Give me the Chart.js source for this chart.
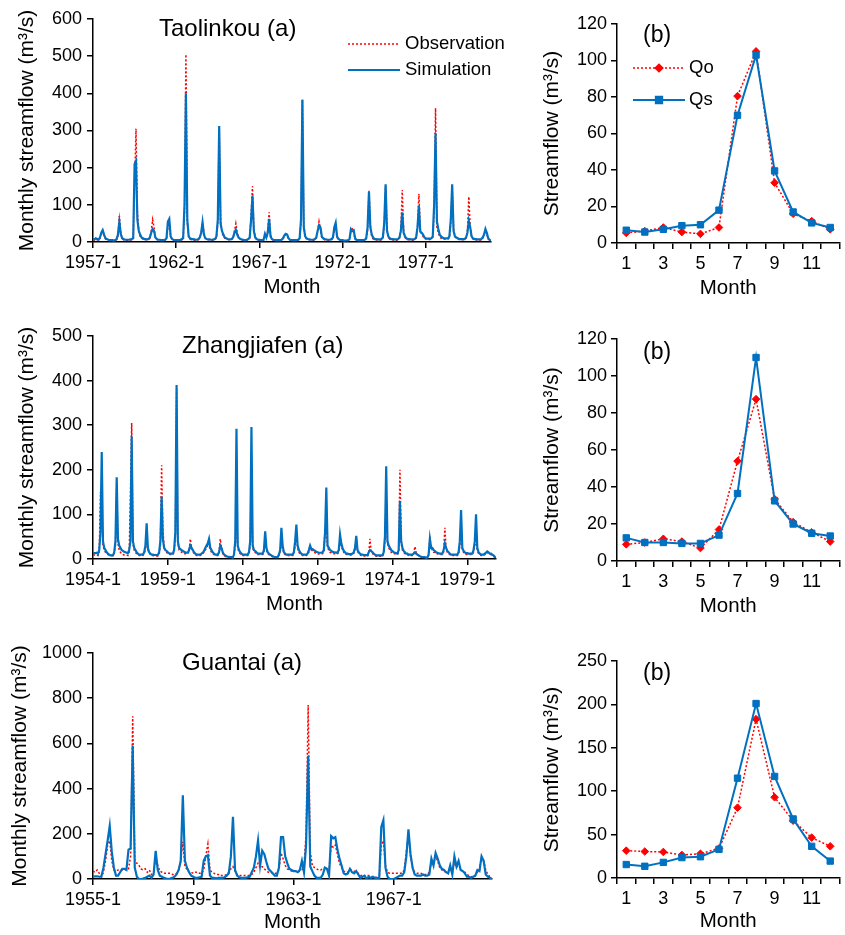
<!DOCTYPE html>
<html>
<head>
<meta charset="utf-8">
<script src="https://cdn.jsdelivr.net/npm/chart.js@4.4.1/dist/chart.umd.min.js"></script>
<style>
body { margin: 0; background: #fff; width: 845px; height: 935px; position: relative; overflow: hidden; font-family: "Liberation Sans", Arial, sans-serif; }
.box { position: absolute; }
.lbl { position: absolute; font-size: 24px; line-height: 24px; color: #000; white-space: nowrap; }
</style>
</head>
<body>
<div class="box" style="left:0;top:0;width:518px;height:300px"><canvas id="taoA"></canvas></div>
<div class="box" style="left:520px;top:0;width:325px;height:301px"><canvas id="taoB"></canvas></div>
<div class="box" style="left:0;top:317px;width:505px;height:300px"><canvas id="zhaA"></canvas></div>
<div class="box" style="left:520px;top:315px;width:325px;height:304px"><canvas id="zhaB"></canvas></div>
<div class="box" style="left:0;top:634px;width:500px;height:301px"><canvas id="guaA"></canvas></div>
<div class="box" style="left:520px;top:637px;width:325px;height:297px"><canvas id="guaB"></canvas></div>

<div class="lbl" style="left:159px;top:16px">Taolinkou (a)</div>
<div class="lbl" style="left:182px;top:333px">Zhangjiafen (a)</div>
<div class="lbl" style="left:182px;top:650px">Guantai (a)</div>
<div class="lbl" style="left:643px;top:22px;font-size:23px">(b)</div>
<div class="lbl" style="left:643px;top:339px;font-size:23px">(b)</div>
<div class="lbl" style="left:643px;top:660px;font-size:23px">(b)</div>

<script>
// ---- Taolinkou monthly series, 1957-1 .. 1980-12 (one row per year)
const taoSim = [
  8,7,10,8,6,12,25,32,20,10,8,6,
  5,5,5,4,5,8,20,55,22,10,8,6,
  6,6,6,7,8,10,210,218,60,30,20,12,
  10,8,8,7,8,12,25,35,30,12,8,6,
  6,5,5,5,6,10,55,62,15,8,6,5,
  5,5,5,5,8,10,100,400,60,15,10,8,
  8,7,6,6,8,12,25,53,20,10,8,7,
  7,6,6,7,8,15,60,312,50,30,20,12,
  10,8,7,7,8,12,25,33,20,12,9,7,
  6,5,5,6,8,12,60,125,30,12,8,6,
  6,5,5,6,22,12,25,62,15,8,6,5,
  5,5,5,5,6,10,18,22,20,10,6,5,
  5,5,5,5,6,10,60,383,40,15,10,8,
  7,6,6,6,8,12,30,45,40,15,10,8,
  7,6,6,6,8,12,40,52,15,8,6,5,
  5,4,4,4,5,8,35,30,32,10,6,5,
  5,5,5,5,6,10,40,135,40,20,12,8,
  8,7,7,7,8,12,50,155,30,15,10,8,
  8,7,7,7,8,12,30,80,25,15,10,8,
  8,7,7,7,8,12,40,97,28,25,20,12,
  10,9,9,9,10,15,100,293,55,35,20,15,
  12,10,10,10,10,15,60,155,30,15,12,10,
  8,8,8,8,8,12,25,57,40,15,10,8,
  8,7,7,7,8,12,20,35,25,10,6,3
];
const taoObs = [
  6,5,8,6,5,10,20,30,18,8,6,5,
  4,4,4,4,4,6,15,70,25,10,6,5,
  5,5,5,5,6,8,150,305,80,30,15,10,
  8,7,6,6,6,10,30,60,40,12,7,5,
  5,4,4,4,5,8,40,55,15,8,5,4,
  4,4,4,4,6,8,80,505,50,15,8,6,
  6,5,5,5,6,10,25,50,25,10,7,6,
  6,5,5,5,6,12,50,310,60,25,15,10,
  8,7,6,6,7,10,30,50,25,12,8,6,
  5,4,4,5,6,10,70,150,35,12,7,5,
  5,4,4,5,15,12,30,80,20,8,5,4,
  4,4,4,4,5,8,15,20,18,8,5,4,
  4,4,4,4,5,8,50,383,45,15,8,6,
  6,5,5,5,6,10,30,55,35,12,8,6,
  5,5,5,5,6,10,30,40,12,7,5,4,
  4,3,3,3,4,6,30,35,25,8,5,4,
  4,4,4,4,5,8,30,138,45,15,8,6,
  6,5,5,5,6,10,40,150,35,12,8,6,
  6,5,5,5,6,10,35,140,30,12,8,6,
  6,5,5,5,6,10,40,130,35,20,15,10,
  8,7,7,7,8,12,80,360,40,25,15,10,
  10,8,8,8,8,12,50,150,35,15,10,8,
  7,6,6,6,7,10,30,122,40,15,8,6,
  6,5,5,5,6,10,20,30,20,8,5,3
];
const taoTicks = ['1957-1', '1962-1', '1967-1', '1972-1', '1977-1'];

// ---- Zhangjiafen monthly series, 1954-1 .. 1980-12
const zhaSim = [
  14,13,13,14,12,20,60,240,40,25,20,15,
  12,10,8,8,8,15,40,183,45,30,25,20,
  18,16,15,14,13,20,40,275,40,25,20,15,
  12,10,10,10,10,15,30,80,25,15,12,10,
  10,9,9,9,9,15,40,140,45,25,20,18,
  15,13,12,12,12,20,60,390,40,25,22,20,
  18,16,15,14,14,20,30,25,20,15,12,10,
  10,10,10,12,14,18,25,30,35,45,25,20,
  15,12,10,10,10,15,30,25,15,10,8,6,
  5,5,4,4,3,10,40,292,30,20,15,12,
  10,10,10,10,10,15,40,296,30,20,18,15,
  12,12,12,12,12,20,62,25,15,12,10,8,
  6,5,4,4,4,10,20,70,30,15,12,10,
  10,10,10,10,10,15,40,77,30,20,15,12,
  10,10,10,10,12,20,30,22,22,20,18,16,
  15,14,14,14,15,20,60,160,30,25,20,18,
  16,15,15,14,15,20,55,35,25,18,15,12,
  12,11,11,11,12,15,25,52,20,15,12,10,
  10,9,9,9,8,15,20,18,15,12,10,8,
  8,8,8,8,8,15,50,208,40,30,25,20,
  18,15,14,13,12,20,128,40,25,18,15,12,
  12,10,10,10,10,12,15,12,10,8,6,5,
  4,4,4,3,3,10,45,25,25,20,18,15,
  14,13,12,12,12,20,35,25,18,15,12,10,
  10,10,10,10,10,15,40,110,25,18,15,13,
  13,12,12,12,12,20,40,100,25,15,12,10,
  10,10,12,14,17,15,12,12,10,8,5,3
];
const zhaObs = [
  10,9,9,9,8,15,150,100,30,20,15,12,
  10,9,8,8,7,12,30,170,35,20,15,12,
  10,9,9,9,8,15,140,305,35,20,15,12,
  10,8,8,8,8,12,20,45,20,15,10,8,
  8,7,7,7,7,12,30,210,70,25,18,15,
  12,10,10,10,10,15,50,380,35,20,18,15,
  14,12,12,12,12,18,45,25,18,12,10,8,
  8,8,8,10,12,15,20,25,30,30,20,15,
  12,10,8,8,8,12,45,25,12,8,6,5,
  4,4,3,3,3,8,30,110,25,15,12,10,
  8,8,8,8,8,12,30,180,25,18,15,12,
  10,10,10,10,10,15,40,20,12,10,8,6,
  5,4,4,4,4,8,15,35,25,12,10,8,
  8,8,8,8,8,12,30,50,25,15,12,10,
  8,8,8,8,10,15,30,20,18,15,14,12,
  12,11,11,11,12,15,65,60,25,20,15,14,
  12,12,12,12,12,15,40,30,20,15,12,10,
  10,9,9,9,10,12,20,45,18,12,10,8,
  8,7,7,7,7,12,45,15,12,10,8,6,
  6,6,6,6,6,12,40,150,35,25,20,15,
  14,12,12,11,10,15,200,35,20,15,12,10,
  10,8,8,8,8,10,28,15,10,8,6,4,
  4,3,3,3,3,8,50,25,20,15,15,12,
  12,10,10,10,10,15,70,25,15,12,10,8,
  8,8,8,8,8,12,30,60,20,15,12,10,
  10,10,10,10,10,15,30,45,20,12,10,8,
  8,8,10,12,15,12,10,10,8,6,4,3
];
const zhaTicks = ['1954-1', '1959-1', '1964-1', '1969-1', '1974-1', '1979-1'];

// ---- Guantai monthly series, 1955-1 .. 1970-12
const guaSim = [
  10,12,12,10,10,50,110,170,235,120,50,15,
  15,30,45,45,40,130,135,590,50,10,0,0,
  2,5,10,15,5,20,125,40,15,10,5,2,
  0,2,5,10,20,40,80,370,80,50,30,15,
  10,5,5,8,10,80,100,105,15,5,5,3,
  5,5,5,8,15,25,100,275,40,15,8,5,
  5,5,8,10,30,50,100,170,60,125,110,75,
  45,35,25,15,15,50,185,185,100,70,45,40,
  35,35,30,40,80,30,150,545,55,35,15,5,
  5,5,20,50,45,15,190,180,185,130,90,60,
  25,20,25,45,30,25,35,20,5,10,15,0,
  10,5,10,5,5,0,230,260,50,10,0,0,
  0,5,10,15,15,30,100,220,110,50,20,15,
  15,15,20,15,15,20,90,60,115,90,60,45,
  40,30,25,60,20,100,55,80,40,35,25,10,
  10,5,10,15,40,35,100,80,20,10,5,0
];
const guaObs = [
  35,30,40,25,10,30,80,150,170,80,40,35,
  40,40,40,45,40,45,100,720,80,70,60,45,
  40,45,30,40,20,25,90,60,35,30,25,25,
  25,25,20,20,25,40,80,165,60,40,30,30,
  25,30,30,25,25,40,100,155,40,30,25,20,
  20,15,15,15,20,30,45,55,35,20,15,15,
  15,15,15,15,20,30,50,70,50,55,45,35,
  30,30,25,25,25,40,115,90,60,45,40,35,
  35,35,30,35,40,60,200,770,120,60,50,45,
  40,40,45,50,45,40,150,140,150,110,70,50,
  35,30,30,40,40,35,30,25,15,15,10,15,
  15,12,10,10,5,0,150,170,60,30,25,25,
  25,25,25,25,25,40,120,200,100,50,30,25,
  25,25,20,20,20,30,70,65,100,80,50,40,
  35,30,25,50,25,80,50,70,40,35,30,20,
  15,10,10,15,30,40,95,80,40,20,10,5
];
const guaTicks = ['1955-1', '1959-1', '1963-1', '1967-1'];

// ---- mean monthly hydrographs (b)
const months = ['1','2','3','4','5','6','7','8','9','10','11','12'];
const taoQo = [5.5, 6.5, 8.5, 6, 5, 8.5, 80.5, 105, 33, 16, 12, 7.5];
const taoQs = [7, 6, 7.5, 9.5, 10, 18, 70, 103, 39.5, 17, 11, 8.5];
const zhaQo = [9, 10, 12, 10.5, 7, 17, 54, 87.5, 33.5, 21, 15.5, 10.5];
const zhaQs = [12.5, 10, 10, 9.5, 9.5, 14, 36.5, 110, 32.5, 20, 15, 13.5];
const guaQo = [31.5, 30.5, 30, 26.5, 28, 34, 81, 183, 93, 66, 46.5, 36.5];
const guaQs = [15.5, 13.5, 18, 23.5, 24.5, 33, 115, 201, 117, 68, 36.5, 19.5];

const BLUE = '#0070C0';
const RED = '#FF0000';
Chart.defaults.font.family = "'Liberation Sans', Arial, sans-serif";
Chart.defaults.color = '#000';

// legend drawn by hand inside the plot, like the Excel original
function legendPlugin(items) {
  return {
    id: 'handLegend',
    afterDraw(chart) {
      const c = chart.ctx;
      items.forEach(it => {
        c.save();
        c.strokeStyle = it.color;
        c.fillStyle = it.color;
        c.lineWidth = it.width;
        c.setLineDash(it.dash || []);
        c.beginPath();
        c.moveTo(it.x1, it.y);
        c.lineTo(it.x2, it.y);
        c.stroke();
        c.setLineDash([]);
        if (it.marker) {
          Chart.helpers.drawPoint(c, { pointStyle: it.marker, radius: it.r, borderWidth: 1 }, (it.x1 + it.x2) / 2, it.y);
        }
        c.fillStyle = '#000';
        c.font = "18.5px 'Liberation Sans', Arial, sans-serif";
        c.textBaseline = 'middle';
        c.fillText(it.text, it.tx, it.y);
        c.restore();
      });
    }
  };
}

const axisGrid = { drawOnChartArea: false, color: '#000', tickLength: 6, lineWidth: 1.5 };
const axisBorder = { color: '#000', width: 1.5 };

function seriesChart(id, sim, obs, yMax, yStep, tickLabels, tickStep, padTop, padRight, xHeight, titlePad, legend) {
  return new Chart(document.getElementById(id), {
    type: 'line',
    data: {
      datasets: [
        { label: 'Simulation', data: sim.map((v, i) => ({ x: i, y: v })), borderColor: BLUE, borderWidth: 2.2, pointRadius: 0 },
        { label: 'Observation', data: obs.map((v, i) => ({ x: i, y: v })), borderColor: RED, borderWidth: 1.5, borderDash: [2, 2], pointRadius: 0 }
      ]
    },
    options: {
      animation: false,
      responsive: true,
      maintainAspectRatio: false,
      layout: { padding: { top: padTop, right: padRight, left: 0, bottom: 0 } },
      plugins: { legend: { display: false }, tooltip: { enabled: false } },
      scales: {
        x: {
          type: 'linear', min: 0, max: sim.length - 1,
          afterBuildTicks: s => { s.ticks = tickLabels.map((t, i) => ({ value: i * tickStep })); },
          ticks: { callback: (v, i) => tickLabels[i], font: { size: 18 }, padding: 4, maxRotation: 0, autoSkip: false },
          grid: axisGrid,
          border: axisBorder,
          title: { display: true, text: 'Month', font: { size: 20.5 }, padding: 0 },
          afterFit: s => { s.height = xHeight; }
        },
        y: {
          min: 0, max: yMax,
          ticks: { stepSize: yStep, font: { size: 18 }, padding: 5, callback: v => String(v) },
          grid: axisGrid,
          border: axisBorder,
          title: { display: true, text: 'Monthly streamflow (m³/s)', font: { size: 21 }, padding: { top: titlePad, bottom: 0 } },
          afterFit: s => { s.width = 93; }
        }
      }
    },
    plugins: legend ? [legendPlugin(legend)] : []
  });
}

function meanChart(id, qo, qs, yMax, yStep, padTop, xHeight, legend) {
  return new Chart(document.getElementById(id), {
    type: 'line',
    data: {
      labels: months,
      datasets: [
        { label: 'Qs', data: qs, borderColor: BLUE, backgroundColor: BLUE, borderWidth: 2, pointStyle: 'rect', pointRadius: 4.5, pointBorderWidth: 1 },
        { label: 'Qo', data: qo, borderColor: RED, backgroundColor: RED, borderWidth: 1.5, borderDash: [2, 2], pointStyle: 'rectRot', pointRadius: 3.8, pointBorderWidth: 1 }
      ]
    },
    options: {
      animation: false,
      responsive: true,
      maintainAspectRatio: false,
      layout: { padding: { top: padTop, right: 3, left: 0, bottom: 0 } },
      plugins: { legend: { display: false }, tooltip: { enabled: false } },
      scales: {
        x: {
          type: 'category', offset: true,
          ticks: { callback: (v, i) => (i % 2 === 0 ? months[i] : ''), font: { size: 18 }, padding: 4, maxRotation: 0, autoSkip: false },
          grid: Object.assign({ offset: true }, axisGrid),
          border: axisBorder,
          title: { display: true, text: 'Month', font: { size: 20.5 }, padding: 0 },
          afterFit: s => { s.height = xHeight; }
        },
        y: {
          min: 0, max: yMax,
          ticks: { stepSize: yStep, font: { size: 18 }, padding: 4, callback: v => String(v) },
          grid: axisGrid,
          border: axisBorder,
          title: { display: true, text: 'Streamflow (m³/s)', font: { size: 21 }, padding: { top: 20, bottom: 0 } },
          afterFit: s => { s.width = 97; }
        }
      }
    },
    plugins: legend ? [legendPlugin(legend)] : []
  });
}

seriesChart('taoA', taoSim, taoObs, 600, 100, taoTicks, 60, 19, 27, 58, 15, [
  { x1: 348, x2: 400, y: 44, color: RED, width: 1.5, dash: [2, 2], text: 'Observation', tx: 405 },
  { x1: 348, x2: 400, y: 70, color: BLUE, width: 2.2, text: 'Simulation', tx: 405 }
]);
meanChart('taoB', taoQo, taoQs, 120, 20, 24, 58, [
  { x1: 113, x2: 165, y: 68, color: RED, width: 1.5, dash: [2, 2], marker: 'rectRot', r: 3.8, text: 'Qo', tx: 169 },
  { x1: 113, x2: 165, y: 100, color: BLUE, width: 2, marker: 'rect', r: 4.5, text: 'Qs', tx: 169 }
]);
seriesChart('zhaA', zhaSim, zhaObs, 500, 100, zhaTicks, 60, 19, 9, 58, 15, null);
meanChart('zhaB', zhaQo, zhaQs, 120, 20, 24, 58, null);
seriesChart('guaA', guaSim, guaObs, 1000, 200, guaTicks, 48, 19, 8, 56, 8, null);
meanChart('guaB', guaQo, guaQs, 250, 50, 24, 56, null);
</script>
</body>
</html>
